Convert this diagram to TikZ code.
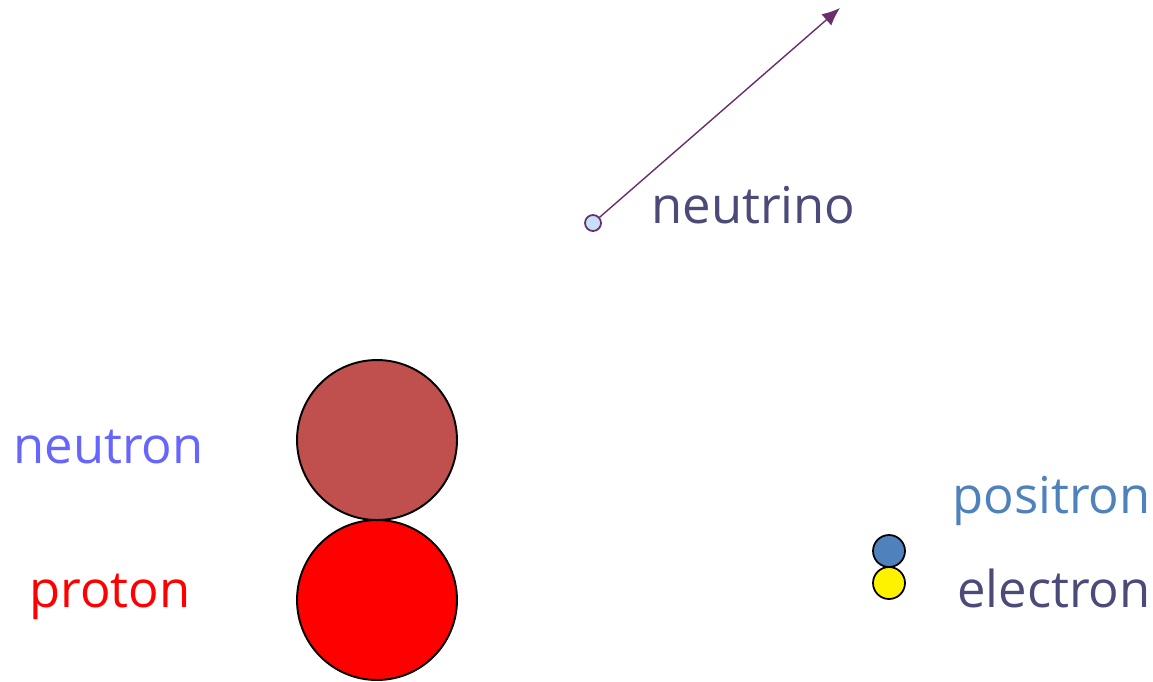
\documentclass[tikz,border=0pt]{standalone}
\usepackage{fontspec}
\setmainfont{Open Sans}
\usepackage{xcolor}
\usepackage{tikz}
\usetikzlibrary{arrows.meta, positioning}

\definecolor{slate}{HTML}{4B4A78}
\definecolor{neutronblue}{HTML}{6666FF}
\definecolor{posblue}{HTML}{4F81BD}
\definecolor{neutronred}{HTML}{C0504D}
\definecolor{nupurple}{HTML}{6A2E6A}
\definecolor{nufill}{HTML}{C6E0F8}

\begin{document}
\begin{tikzpicture}[
    x=0.02cm, y=-0.02cm,
    label/.style={font=\fontsize{28.9}{34}\selectfont, inner sep=0pt},
    nucleon/.style={circle, draw=black, line width=1.1pt, minimum size=3.2cm, inner sep=0pt},
    lepton/.style={circle, draw=black, line width=1pt, minimum size=0.64cm, inner sep=0pt},
    arrow/.style={-{Latex[length=0.36cm, width=0.3cm]}, line width=0.8pt}
]
    \useasboundingbox (0,0) rectangle (1153,681);

    % nucleus
    \node[nucleon, fill=neutronred] (neutron) at (377,440) {};
    \node[nucleon, fill=red] (proton) at (377,600) {};
    \node[label, anchor=base west, text=neutronblue] (neutronlbl) at (13,463) {neutron};
    \node[label, anchor=base west, text=red] (protonlbl) at (29,607) {proton};

    % positron and electron
    \node[lepton, fill=posblue] (positron) at (889,551) {};
    \node[lepton, fill=yellow] (electron) at (889,583) {};
    \node[label, anchor=base east, text=posblue] (positronlbl) at (1151,513) {positron};
    \node[label, anchor=base east, text=slate] (electronlbl) at (1151,607) {electron};

    % neutrino
    \node[circle, draw=nupurple, fill=nufill, line width=1pt, minimum size=0.32cm, inner sep=0pt] (neutrino) at (593,223) {};
    \node[label, anchor=base west, text=slate] (neutrinolbl) at (651,223) {neutrino};
    \coordinate (nutip) at (840,8);
    \draw[arrow, nupurple] (neutrino) -- (nutip);
\end{tikzpicture}
\end{document}
